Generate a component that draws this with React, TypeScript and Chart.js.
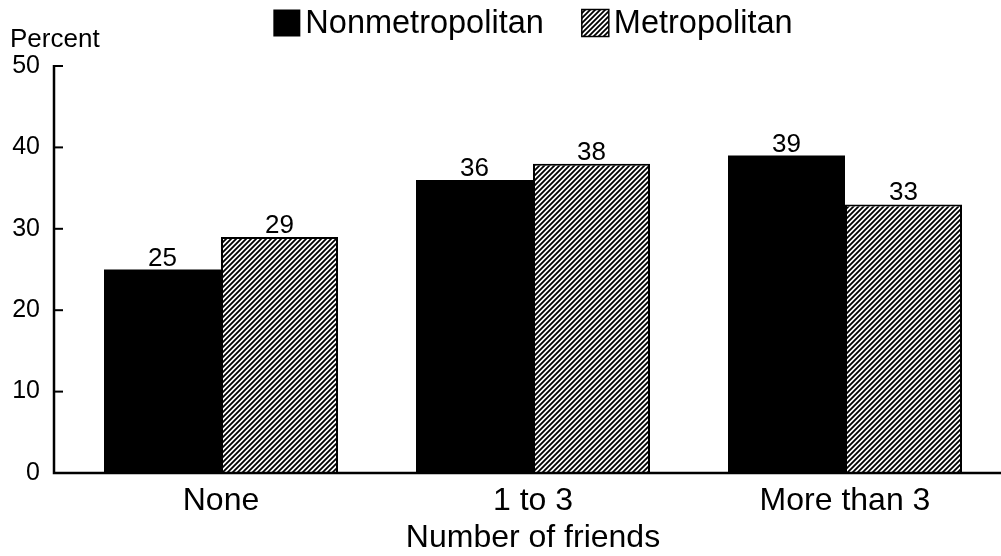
import React, { useEffect, useRef } from "react";
import { Chart, registerables } from "chart.js";

Chart.register(...registerables);

const categories = ["None", "1 to 3", "More than 3"];
const nonmetroValues = [25, 36, 39];
const metroValues = [29, 38, 33];
const seriesNames = ["Nonmetropolitan", "Metropolitan"];
const yTickValues = [0, 10, 20, 30, 40, 50];
const yAxisLabel = "Percent";
const xAxisTitle = "Number of friends";

const FONT = "'Liberation Sans', Arial, Helvetica, sans-serif";

function makeHatch(): CanvasPattern | string {
  const c = document.createElement("canvas");
  const s = 5;
  c.width = s;
  c.height = s;
  const ctx = c.getContext("2d");
  if (!ctx) return "#888";
  ctx.fillStyle = "#fff";
  ctx.fillRect(0, 0, s, s);
  ctx.strokeStyle = "#000";
  ctx.lineWidth = 1.8;
  ctx.beginPath();
  ctx.moveTo(-1, s + 1);
  ctx.lineTo(s + 1, -1);
  ctx.moveTo(-1, 1);
  ctx.lineTo(1, -1);
  ctx.moveTo(s - 1, s + 1);
  ctx.lineTo(s + 1, s - 1);
  ctx.stroke();
  return ctx.createPattern(c, "repeat") || "#888";
}

const axesPlugin = {
  id: "customAxes",
  afterDatasetsDraw(chart: any) {
    const { ctx, chartArea } = chart;
    const y = chart.scales.y;
    const ax = chartArea.left - 11;
    ctx.save();
    ctx.strokeStyle = "#000";
    ctx.lineWidth = 2.5;
    ctx.beginPath();
    ctx.moveTo(ax, y.getPixelForValue(yTickValues[yTickValues.length - 1]) - 1);
    ctx.lineTo(ax, chartArea.bottom);
    ctx.lineTo(chartArea.right, chartArea.bottom);
    ctx.stroke();
    ctx.lineWidth = 2;
    yTickValues.forEach((v) => {
      const p = y.getPixelForValue(v);
      ctx.beginPath();
      ctx.moveTo(ax, p);
      ctx.lineTo(ax + 9, p);
      ctx.stroke();
    });
    ctx.restore();
  },
};

const valueLabelPlugin = {
  id: "valueLabels",
  afterDatasetsDraw(chart: any) {
    const { ctx } = chart;
    ctx.save();
    ctx.fillStyle = "#000";
    ctx.font = `26px ${FONT}`;
    ctx.textAlign = "center";
    ctx.textBaseline = "alphabetic";
    chart.data.datasets.forEach((ds: any, i: number) => {
      const meta = chart.getDatasetMeta(i);
      meta.data.forEach((el: any, j: number) => {
        ctx.fillText(String(ds.data[j]), el.x, el.y - 4);
      });
    });
    ctx.restore();
  },
};

const legendPlugin = {
  id: "customLegend",
  afterDraw(chart: any) {
    const { ctx, chartArea } = chart;
    ctx.save();
    ctx.font = `32.5px ${FONT}`;
    const box = 27;
    const gap = 5;
    const itemGap = 38;
    const items = chart.data.datasets.map((ds: any) => ({
      label: ds.label as string,
      fill: ds.backgroundColor,
      w: ctx.measureText(ds.label).width,
    }));
    const total =
      items.reduce((s: number, it: any) => s + box + gap + it.w, 0) +
      itemGap * (items.length - 1);
    let x = (chartArea.left + chartArea.right) / 2 - total / 2;
    const cy = 23;
    items.forEach((it: any, i: number) => {
      ctx.fillStyle = it.fill;
      ctx.fillRect(x, cy - box / 2, box, box);
      if (i > 0) {
        ctx.strokeStyle = "#000";
        ctx.lineWidth = 1.5;
        ctx.strokeRect(x, cy - box / 2, box, box);
      }
      ctx.fillStyle = "#000";
      ctx.textAlign = "left";
      ctx.textBaseline = "middle";
      ctx.fillText(it.label, x + box + gap, cy + 1);
      x += box + gap + it.w + itemGap;
    });
    ctx.font = `26px ${FONT}`;
    ctx.textAlign = "left";
    ctx.textBaseline = "middle";
    ctx.fillText(yAxisLabel, 10, 40);
    ctx.restore();
  },
};

export default function App() {
  const ref = useRef<HTMLCanvasElement>(null);
  useEffect(() => {
    document.body.style.margin = "0";
    const hatch = makeHatch();
    const chart = new Chart(ref.current as HTMLCanvasElement, {
      type: "bar",
      data: {
        labels: categories,
        datasets: [
          {
            label: seriesNames[0],
            data: nonmetroValues,
            backgroundColor: "#000",
            borderWidth: 0,
            categoryPercentage: 0.75,
            barPercentage: 1.0,
          },
          {
            label: seriesNames[1],
            data: metroValues,
            backgroundColor: hatch as any,
            borderColor: "#000",
            borderWidth: 2,
            categoryPercentage: 0.75,
            barPercentage: 1.0,
          },
        ],
      },
      options: {
        animation: false,
        responsive: true,
        maintainAspectRatio: false,
        layout: { padding: { top: 66, left: 0, right: 0, bottom: 0 } },
        plugins: {
          legend: { display: false },
          tooltip: { enabled: false },
        },
        scales: {
          x: {
            grid: { display: false, drawTicks: false },
            border: { display: false },
            ticks: {
              color: "#000",
              font: { family: FONT, size: 32 },
              padding: 9,
            },
            title: {
              display: true,
              text: xAxisTitle,
              color: "#000",
              font: { family: FONT, size: 32, lineHeight: 1 },
              padding: { top: 0, bottom: 2 },
            },
            afterFit: (scale: any) => {
              scale.height = 83;
            },
          },
          y: {
            min: 0,
            max: 50,
            grid: { display: false, drawTicks: false },
            border: { display: false },
            ticks: {
              stepSize: 10,
              color: "#000",
              font: { family: FONT, size: 25 },
              padding: 25,
            },
            afterFit: (scale: any) => {
              scale.width = 65;
            },
          },
        },
      },
      plugins: [axesPlugin, valueLabelPlugin, legendPlugin],
    });
    return () => chart.destroy();
  }, []);
  return (
    <div style={{ width: 1001, height: 556, position: "relative", background: "#fff" }}>
      <canvas ref={ref} />
    </div>
  );
}
